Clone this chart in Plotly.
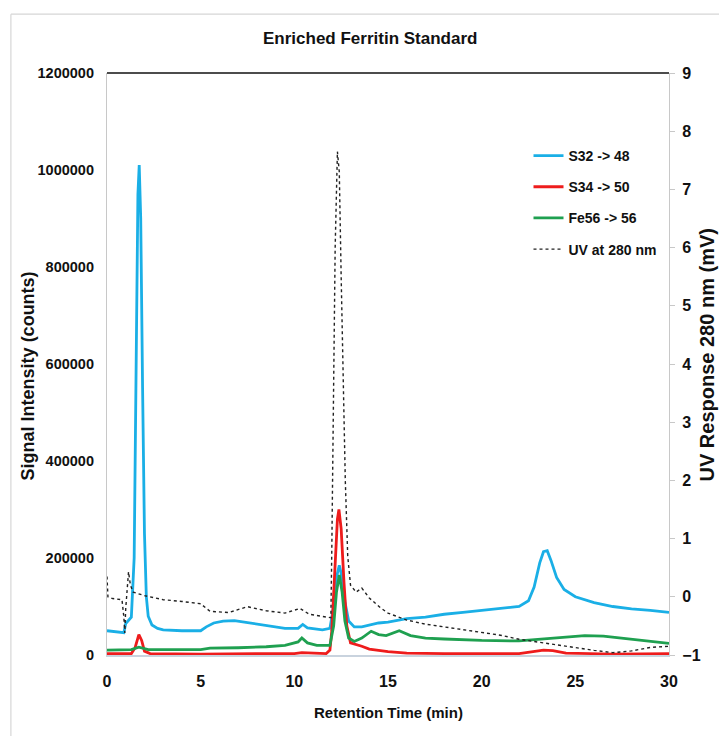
import plotly.graph_objects as go

# ---------------- data ----------------
t_s32 = [0, 0.5, 0.9, 1.0, 1.15, 1.3, 1.45, 1.55, 1.65, 1.72, 1.8, 1.9, 2.0, 2.1, 2.2, 2.4, 2.7, 3.0,
         4.0, 5.0, 5.3, 5.7, 6.2, 6.8, 7.5, 8.5, 9.5, 10.2, 10.45, 10.7, 11.5, 11.9, 12.1, 12.25,
         12.4, 12.55, 12.7, 12.9, 13.2, 13.6, 14.0, 14.5, 15.0, 16.0, 17.0, 18.0, 19.0, 20.0,
         21.0, 22.0, 22.5, 22.8, 23.1, 23.3, 23.5, 23.7, 24.0, 24.4, 25.0, 26.0, 27.0, 28.0, 29.0, 30.0]
s32 = [50000, 47000, 46000, 65000, 72000, 78000, 200000, 600000, 950000, 1010000, 900000, 550000,
       250000, 120000, 80000, 62000, 55000, 52000, 50000, 50000, 58000, 66000, 70000, 71000, 67000,
       60000, 55000, 55000, 63000, 56000, 52000, 55000, 100000, 160000, 185000, 160000, 110000,
       70000, 58000, 58000, 62000, 66000, 68000, 75000, 78000, 84000, 88000, 92000, 96000, 100000,
       112000, 140000, 190000, 213000, 215000, 195000, 160000, 135000, 120000, 108000, 100000,
       95000, 92000, 88000]

t_s34 = [0, 1.3, 1.5, 1.7, 1.85, 2.0, 2.3, 5.0, 10.0, 10.4, 11.7, 11.9, 12.0, 12.15, 12.3, 12.38,
         12.5, 12.65, 12.8, 13.0, 13.3, 13.6, 14.0, 15.0, 16.0, 18.0, 22.0, 22.8, 23.3, 23.8, 24.5,
         27.0, 30.0]
s34 = [3000, 3000, 15000, 42000, 30000, 8000, 3000, 2000, 3000, 5000, 3000, 10000, 50000, 170000,
       280000, 300000, 260000, 150000, 60000, 25000, 22000, 18000, 12000, 7000, 4000, 3000, 3000,
       7000, 10000, 9000, 4000, 2000, 3000]

t_fe56 = [0, 1.3, 1.7, 2.2, 5.0, 5.5, 7.0, 8.5, 9.5, 10.2, 10.4, 10.7, 11.2, 11.9, 12.1, 12.25, 12.4,
          12.55, 12.7, 12.9, 13.2, 13.6, 14.1, 14.5, 14.9, 15.6, 16.2, 17.0, 18.0, 20.0, 22.0, 24.0,
          25.5, 26.5, 28.0, 29.0, 30.0]
fe56 = [10000, 11000, 16000, 11000, 11000, 14000, 15000, 17000, 20000, 27000, 35000, 25000, 20000,
        20000, 60000, 130000, 165000, 130000, 70000, 35000, 28000, 35000, 49000, 42000, 40000, 50000,
        40000, 35000, 33000, 30000, 29000, 35000, 40000, 39000, 33000, 28000, 24000]

t_uv = [0, 0.05, 0.3, 0.8, 0.9, 0.95, 1.0, 1.1, 1.15, 1.25, 1.4, 2.0, 3.0, 4.0, 5.0, 5.5, 6.5, 7.5,
        8.5, 9.5, 10.3, 10.8, 11.95, 12.0, 12.08, 12.18, 12.3, 12.4, 12.5, 12.6, 12.72, 12.85, 13.0,
        13.3, 13.6, 14.0, 14.6, 15.0, 16.0, 17.0, 18.0, 19.0, 20.0, 21.0, 22.0, 23.0, 24.0, 25.0,
        26.0, 27.0, 28.0, 29.0, 30.0]
uv = [0.35, 0.0, -0.03, -0.05, -0.35, -0.62, -0.2, 0.3, 0.43, 0.2, 0.08, 0.02, -0.05, -0.08, -0.12,
      -0.25, -0.27, -0.17, -0.24, -0.28, -0.2, -0.3, -0.36, 0.8, 3.0, 6.0, 7.65, 7.3, 5.5, 3.8, 2.0,
      0.7, 0.2, 0.08, 0.15, -0.02, -0.19, -0.28, -0.4, -0.47, -0.52, -0.57, -0.61, -0.66, -0.73,
      -0.78, -0.83, -0.87, -0.92, -0.96, -0.93, -0.87, -0.85]

series_names = ["S32 -> 48", "S34 -> 50", "Fe56 -> 56", "UV at 280 nm"]
x_ticks = [0, 5, 10, 15, 20, 25, 30]
y_ticks = [0, 200000, 400000, 600000, 800000, 1000000, 1200000]
y2_ticks = [-1, 0, 1, 2, 3, 4, 5, 6, 7, 8, 9]

FONT = "Liberation Sans, Arial, sans-serif"
INK = "#111111"

fig = go.Figure()
fig.add_trace(go.Scatter(x=t_s32, y=s32, name=series_names[0], mode="lines",
                         line=dict(color="#1AAFE6", width=2.8), legendgroup="a"))
fig.add_trace(go.Scatter(x=t_s34, y=s34, name=series_names[1], mode="lines",
                         line=dict(color="#EE1C1C", width=2.8), legendgroup="b"))
fig.add_trace(go.Scatter(x=t_fe56, y=fe56, name=series_names[2], mode="lines",
                         line=dict(color="#1FA050", width=2.8), legendgroup="c"))
fig.add_trace(go.Scatter(x=t_uv, y=uv, name=series_names[3], mode="lines", yaxis="y2",
                         line=dict(color="#222222", width=1.4, dash="dot"), legendgroup="d"))

fig.update_layout(
    width=719, height=736,
    margin=dict(l=107, r=50, t=73, b=81),
    paper_bgcolor="white", plot_bgcolor="white",
    showlegend=True,
    legend=dict(x=0.75, y=0.885, xanchor="left", yanchor="top",
                font=dict(family=FONT, size=14, color=INK, weight="bold"),
                tracegroupgap=10, itemwidth=30, bgcolor="rgba(0,0,0,0)"),
    xaxis=dict(range=[0, 30], tickvals=x_ticks, showgrid=False, zeroline=False,
               showline=True, linecolor="#C9D3DE", linewidth=1.5, ticks="",
               tickfont=dict(family=FONT, size=16, color=INK, weight="bold"),
               ticklabelstandoff=11),
    yaxis=dict(range=[0, 1200000], tickvals=y_ticks, tickformat="d", showgrid=False,
               zeroline=False, showline=True, linecolor="#C8C8C8", linewidth=1.2, ticks="",
               tickfont=dict(family=FONT, size=14.5, color=INK, weight="bold"),
               ticklabelstandoff=9),
    yaxis2=dict(range=[-1, 9], tickvals=y2_ticks, overlaying="y", side="right", showgrid=False,
                zeroline=False, showline=True, linecolor="#C8C8C8", linewidth=1.2,
                ticks="outside", ticklen=5, tickcolor="#C8C8C8",
                tickfont=dict(family=FONT, size=16, color=INK, weight="bold"),
                ticklabelstandoff=4),
)

# top black border line of plot area
fig.add_shape(type="line", xref="paper", yref="paper", x0=0, x1=1, y0=1, y1=1,
              line=dict(color=INK, width=1.6))
# outer chart frame (top and left visible)
fig.add_shape(type="line", xref="paper", yref="paper", x0=-0.171, x1=1.2, y0=1.101, y1=1.101,
              line=dict(color="#D6D6D6", width=1.2))
fig.add_shape(type="line", xref="paper", yref="paper", x0=-0.171, x1=-0.171, y0=-0.3, y1=1.101,
              line=dict(color="#D6D6D6", width=1.2))

fig.add_annotation(text="Enriched Ferritin Standard", xref="paper", yref="paper",
                   x=0.468, y=1.06, showarrow=False, xanchor="center", yanchor="middle",
                   font=dict(family=FONT, size=17, color=INK, weight="bold"))
fig.add_annotation(text="Retention Time (min)", xref="paper", yref="paper",
                   x=0.5, y=-0.098, showarrow=False, xanchor="center", yanchor="middle",
                   font=dict(family=FONT, size=15, color=INK, weight="bold"))
fig.add_annotation(text="Signal Intensity (counts)", xref="paper", yref="paper",
                   x=-0.141, y=0.48, showarrow=False, textangle=-90,
                   xanchor="center", yanchor="middle",
                   font=dict(family=FONT, size=18, color=INK, weight="bold"))
fig.add_annotation(text="UV Response 280 nm (mV)", xref="paper", yref="paper",
                   x=1.068, y=0.515, showarrow=False, textangle=-90,
                   xanchor="center", yanchor="middle",
                   font=dict(family=FONT, size=20, color=INK, weight="bold"))

fig.write_html("out.html")
